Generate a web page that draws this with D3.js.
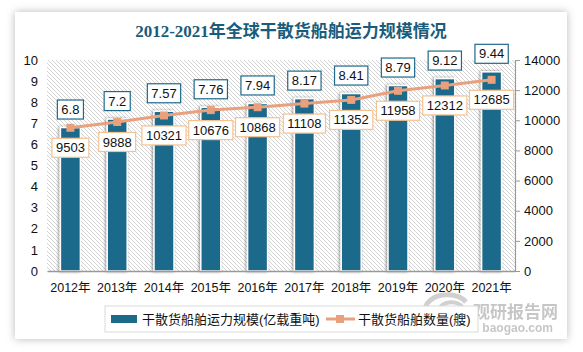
<!DOCTYPE html>
<html><head><meta charset="utf-8">
<script src="https://cdn.jsdelivr.net/npm/d3@7/dist/d3.min.js"></script>
<style>
html,body{margin:0;padding:0;background:#fff;}
svg{display:block;}
text{font-family:"Liberation Sans","Noto Sans CJK SC",sans-serif;}
</style></head>
<body>
<svg id="c" width="583" height="352"></svg>
<script>
const years = ["2012年","2013年","2014年","2015年","2016年","2017年","2018年","2019年","2020年","2021年"];
const capacity = [6.8,7.2,7.57,7.76,7.94,8.17,8.41,8.79,9.12,9.44];
const ships = [9503,9888,10321,10676,10868,11108,11352,11958,12312,12685];
const leftTicks = [0,1,2,3,4,5,6,7,8,9,10];
const rightTicks = [0,2000,4000,6000,8000,10000,12000,14000];
const title = "2012-2021年全球干散货船舶运力规模情况";
const seriesNames = ["干散货船舶运力规模(亿载重吨)","干散货船舶数量(艘)"];

const barColor = "#1E6A8B", lineColor = "#E9A07D", titleColor = "#1A5C7B";
const svg = d3.select("#c");
const defs = svg.append("defs");
const sh = defs.append("filter").attr("id","cardShadow").attr("x","-10%").attr("y","-10%").attr("width","120%").attr("height","120%");
sh.append("feDropShadow").attr("dx",0).attr("dy",0).attr("stdDeviation",4).attr("flood-color","#000").attr("flood-opacity",0.28);
const bs = defs.append("filter").attr("id","barShadow").attr("x","-50%").attr("y","-10%").attr("width","200%").attr("height","120%");
bs.append("feDropShadow").attr("dx",-1).attr("dy",0).attr("stdDeviation",1.6).attr("flood-color","#000").attr("flood-opacity",0.45);
const pat = defs.append("pattern").attr("id","hatch").attr("patternUnits","userSpaceOnUse").attr("width",4).attr("height",4);
pat.append("rect").attr("width",4).attr("height",4).attr("fill","#fff");
pat.append("path").attr("d","M-1,-1 L5,5 M-1,3 L1,5 M3,-1 L5,1").attr("stroke","#c9c9c9").attr("stroke-width",0.8);

// card
svg.append("rect").attr("x",15).attr("y",12).attr("width",552).attr("height",327).attr("fill","#fff").attr("filter","url(#cardShadow)");

svg.append("text").attr("x",291).attr("y",37).attr("text-anchor","middle")
  .style("font-family",'"Liberation Serif","Noto Sans CJK SC",serif').style("font-weight","bold")
  .style("font-size","17px").attr("fill",titleColor).text(title);

const L=47,R=515,T=60,B=271;
const x = d3.scaleBand().domain(years).range([L,R]).padding(0);
const yL = d3.scaleLinear().domain([0,10]).range([B,T]);
const yR = d3.scaleLinear().domain([0,14000]).range([B,T]);

svg.append("rect").attr("x",L).attr("y",T).attr("width",R-L).attr("height",B-T).attr("fill","url(#hatch)");

// watermark
const wm = svg.append("g").attr("opacity",0.55);
wm.append("path").attr("d","M440,324 A22,15 0 1,1 466,302").attr("fill","none").attr("stroke","#aaa").attr("stroke-width",5);
wm.append("path").attr("d","M449,318 A12,8 0 1,1 463,308").attr("fill","none").attr("stroke","#aaa").attr("stroke-width",4);
wm.append("text").attr("x",473).attr("y",318).style("font-size","17px").style("font-weight","bold").attr("fill","#999").text("观研报告网");
wm.append("text").attr("x",553).attr("y",332).attr("text-anchor","end").style("font-size","12px").style("font-weight","bold").attr("fill","#999").text("baogao.com");

// bars
const bw = 20;
const data = years.map((y,i)=>({y, c:capacity[i], s:ships[i]}));
svg.append("g").selectAll("rect").data(data).join("rect")
  .attr("x",d=>x(d.y)+x.bandwidth()/2-bw/2).attr("y",d=>yL(d.c))
  .attr("width",bw).attr("height",d=>B-yL(d.c))
  .attr("fill",barColor).attr("stroke","#fff").attr("stroke-width",1.5).attr("filter","url(#barShadow)");

// axes
const gl = svg.append("g").attr("transform",`translate(${L},0)`)
  .call(d3.axisLeft(yL).tickValues(leftTicks).tickSize(0).tickPadding(9).tickFormat(d3.format("d")));
gl.select(".domain").remove();
gl.selectAll("text").style("font-size","13px").attr("fill","#111");

const gr = svg.append("g").attr("transform",`translate(${R},0)`)
  .call(d3.axisRight(yR).tickValues(rightTicks).tickSize(5).tickPadding(4).tickFormat(d3.format("d")));
gr.select(".domain").attr("stroke","#999").attr("stroke-width",1.2);
gr.selectAll("line").attr("stroke","#999");
gr.selectAll("text").style("font-size","13px").attr("fill","#111");

const gb = svg.append("g").attr("transform",`translate(0,${B})`)
  .call(d3.axisBottom(x).tickSize(0).tickPadding(12));
gb.select(".domain").attr("stroke","#999").attr("stroke-width",1.5);
gb.selectAll("text").style("font-size","12.5px").attr("fill","#111");

// line
const cx = d=>x(d.y)+x.bandwidth()/2;
svg.append("path").datum(data).attr("d",d3.line().x(cx).y(d=>yR(d.s)))
  .attr("fill","none").attr("stroke",lineColor).attr("stroke-width",3);
svg.append("g").selectAll("rect").data(data).join("rect")
  .attr("x",d=>cx(d)-4).attr("y",d=>yR(d.s)-4).attr("width",8).attr("height",8).attr("fill",lineColor);

// labels
function boxLabel(g, px, py, txt, stroke){
  const t = g.append("text").attr("x",px).attr("y",py).attr("text-anchor","middle").attr("dy","0.35em")
    .style("font-size","13px").attr("fill","#111").text(txt);
  const bb = t.node().getBBox();
  g.insert("rect","text").attr("x",px-bb.width/2-4).attr("y",py-9.5).attr("width",bb.width+8).attr("height",19)
    .attr("fill","#fff").attr("stroke",stroke).attr("stroke-width",1.2);
}
data.forEach(d=>{
  const g1 = svg.append("g");
  boxLabel(g1, cx(d), yL(d.c)-18, String(d.c), "#1E6A8B");
});
data.forEach(d=>{
  const g2 = svg.append("g");
  boxLabel(g2, cx(d), yR(d.s)+20, String(d.s), "#F5C18F");
});

// legend
const lg = svg.append("g");
lg.append("rect").attr("x",105).attr("y",306).attr("width",373).attr("height",26).attr("fill","#fff").attr("stroke","#d9d9d9");
lg.append("rect").attr("x",111).attr("y",315).attr("width",26).attr("height",8).attr("fill",barColor);
lg.append("text").attr("x",142).attr("y",319).attr("dy","0.35em").style("font-size","13px").attr("fill","#111").text(seriesNames[0]);
lg.append("line").attr("x1",326).attr("x2",355).attr("y1",319).attr("y2",319).attr("stroke",lineColor).attr("stroke-width",3);
lg.append("rect").attr("x",336).attr("y",315).attr("width",8).attr("height",8).attr("fill",lineColor);
lg.append("text").attr("x",358).attr("y",319).attr("dy","0.35em").style("font-size","13px").attr("fill","#111").text(seriesNames[1]);
</script>
</body></html>
